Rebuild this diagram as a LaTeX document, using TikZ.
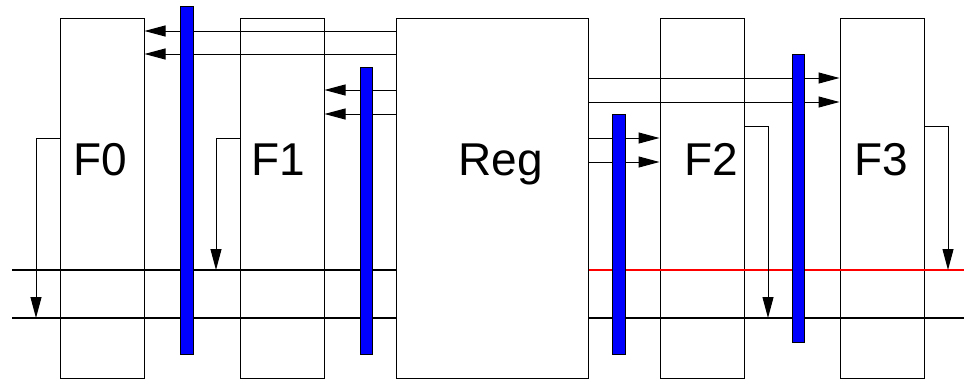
\documentclass[tikz,border=0pt]{standalone}
\usepackage{fontspec}
\setmainfont{Liberation Sans}
\usetikzlibrary{arrows.meta}
\begin{document}
\begin{tikzpicture}[x=1pt,y=-1pt,
  box/.style={draw=black,line width=1pt,rectangle,inner sep=0pt,minimum width=84pt,minimum height=360pt},
  regbox/.style={box,minimum width=192pt},
  bar/.style={draw=black,fill=blue,line width=1pt,rectangle,inner sep=0pt},
  lbl/.style={anchor=base,inner sep=0pt,font=\fontsize{46}{46}\selectfont},
  arr/.style={line width=1pt,-{Triangle[length=21pt,width=11pt]}},
  bus/.style={line width=2pt},
  redbus/.style={line width=2pt,draw=red}]
\useasboundingbox (0,0) rectangle (964,381);
% boxes
\node[box] (F0) at (102,198) {};
\node[box] (F1) at (282,198) {};
\node[regbox] (Reg) at (492,198) {};
\node[box] (F2) at (702,198) {};
\node[box] (F3) at (882,198) {};
% labels
\node[lbl] (tF0) at (100.5,175) {F0};
\node[lbl] (tF1) at (278,175) {F1};
\node[lbl] (tReg) at (500.5,175) {Reg};
\node[lbl] (tF2) at (711.5,175) {F2};
\node[lbl] (tF3) at (881,175) {F3};
% free ends of buses and feedback corners
\coordinate (busTL) at (12,270);
\coordinate (busBL) at (12,318);
\coordinate (busTR) at (964,270);
\coordinate (busBR) at (964,318);
\coordinate (fb0) at (36,318);
\coordinate (fb1) at (216,270);
\coordinate (fb2) at (768,318);
\coordinate (fb3) at (948,270);
% buses
\draw[bus] (busTL) -- (Reg.west |- busTL);
\draw[bus] (busBL) -- (Reg.west |- busBL);
\draw[redbus] (Reg.east |- busTR) -- (busTR);
\draw[bus] (Reg.east |- busBR) -- (busBR);
% register reads
\draw[arr] (Reg.west |- 0,31) -- (F0.east |- 0,31);
\draw[arr] (Reg.west |- 0,54) -- (F0.east |- 0,54);
\draw[arr] (Reg.west |- 0,90) -- (F1.east |- 0,90);
\draw[arr] (Reg.west |- 0,114) -- (F1.east |- 0,114);
\draw[arr] (Reg.east |- 0,78) -- (F3.west |- 0,78);
\draw[arr] (Reg.east |- 0,102) -- (F3.west |- 0,102);
\draw[arr] (Reg.east |- 0,138) -- (F2.west |- 0,138);
\draw[arr] (Reg.east |- 0,162) -- (F2.west |- 0,162);
% feedback to buses
\draw[arr] (F0.west |- 0,138) -| (fb0);
\draw[arr] (F1.west |- 0,138) -| (fb1);
\draw[arr] (F2.east |- 0,126) -| (fb2);
\draw[arr] (F3.east |- 0,126) -| (fb3);
% pipeline bars
\node[bar,minimum width=13pt,minimum height=348pt] (B1) at (186.5,180) {};
\node[bar,minimum width=12pt,minimum height=287pt] (B2) at (366,210.5) {};
\node[bar,minimum width=13pt,minimum height=240pt] (B3) at (618.5,234) {};
\node[bar,minimum width=12pt,minimum height=288pt] (B4) at (798,198) {};
\end{tikzpicture}
\end{document}
